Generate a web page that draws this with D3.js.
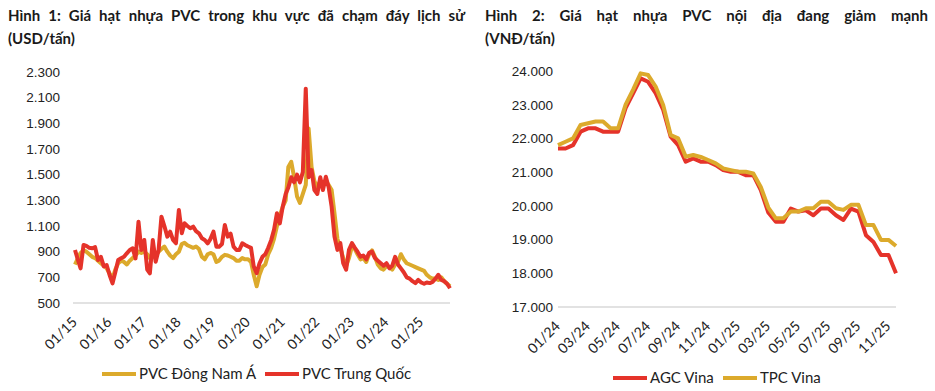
<!DOCTYPE html>
<html>
<head>
<meta charset="utf-8">
<script src="https://cdnjs.cloudflare.com/ajax/libs/d3/7.8.5/d3.min.js"></script>
<style>
    body { margin: 0; background: #fff; }
    svg { display: block; font-family: Lato, "Noto Sans", sans-serif; }
    .title { font-weight: bold; font-size: 15px; fill: #1a1a1a; }
    .tick text { font-size: 13.5px; fill: #222; }
    .legend-label { font-size: 15px; fill: #222; }
</style>
</head>
<body>
<svg id="chart" width="935" height="391"></svg>
<script>
// ---- Hình 1: monthly, 01/2015 - 11/2025 (USD/tấn)
const leftStart = new Date(2015, 0, 1)
const pvcSEA = [
    800, 850, 890, 910, 900, 880, 860, 850, 830, 810, 790, 770,
    730, 690, 760, 810, 830, 820, 800, 830, 850, 870, 900, 890,
    900, 880, 850, 880, 870, 900, 920, 940, 900, 870, 850, 880,
    900, 960, 970, 950, 940, 930, 940, 920, 860, 840, 880, 890,
    880, 820, 830, 860, 875, 870, 860, 850, 830, 830, 850, 840,
    840, 820, 720, 630, 720, 780, 800, 880, 930, 1000, 1100, 1180,
    1250, 1300, 1560, 1600, 1480, 1330, 1280, 1350, 1420, 1860, 1560, 1450,
    1400, 1450, 1420, 1450, 1420, 1380, 1200, 1000, 930, 850, 790, 850,
    940, 920, 880, 840, 850, 820, 880, 910, 860, 800, 770, 760,
    790, 780, 760, 800, 820, 880, 840, 810, 800, 790, 780, 770,
    760, 750, 720, 700, 690, 690, 680, 700, 670, 650, 630
]
const pvcChina = [
    913, 835, 770, 952, 945, 930, 926, 935, 835, 860, 785, 796,
    718, 653, 740, 835, 848, 860, 887, 913, 926, 848, 1134, 913,
    991, 760, 731, 991, 822, 913, 1173, 1100, 1017, 1056, 991, 965,
    1225, 1043, 1121, 1100, 1082, 1095, 1060, 1043, 1004, 991, 965, 1000,
    1056, 939, 939, 960, 1108, 1017, 1040, 939, 913, 913, 965, 952,
    940, 930, 785, 733, 810, 860, 880, 930, 990, 1070, 1200, 1120,
    1250, 1350, 1400, 1480, 1440, 1500, 1440, 1520, 2170, 1480, 1536, 1380,
    1350, 1480, 1380, 1484, 1400, 1250, 1018, 914, 966, 810, 759, 914,
    966, 930, 900, 860, 870, 840, 890, 900, 850, 830, 810, 790,
    810, 770, 790, 860, 800, 770, 740, 700, 690, 670, 655, 680,
    660, 650, 660, 655, 665, 690, 720, 680, 670, 650, 615
]
const leftYTicks = [500, 700, 900, 1100, 1300, 1500, 1700, 1900, 2100, 2300]
const leftXTicks = ['01/15', '01/16', '01/17', '01/18', '01/19', '01/20', '01/21', '01/22', '01/23', '01/24', '01/25']

// ---- Hình 2: twice a month, 01/2024 - 11/2025 (VNĐ/tấn)
const agcVina = [
    21700, 21700, 21800, 22200, 22300, 22300, 22200, 22200, 22200, 22900, 23340, 23780,
    23680, 23340, 22850, 22050, 21800, 21310, 21410, 21310, 21310, 21210, 21060, 21010,
    21010, 20910, 20910, 20470, 19800, 19530, 19530, 19920, 19830, 19870, 19720, 19920,
    19920, 19720, 19580, 19920, 19830, 19130, 18930, 18540, 18540, 18000
]
const tpcVina = [
    21800, 21900, 22000, 22400, 22450, 22500, 22500, 22300, 22300, 23000, 23450, 23930,
    23880, 23540, 22990, 22100, 22000, 21460, 21510, 21450, 21360, 21260, 21110, 21060,
    21010, 21010, 20960, 20560, 19950, 19630, 19630, 19830, 19830, 19930, 19930, 20120,
    20120, 19930, 19880, 20030, 20030, 19430, 19430, 18990, 18990, 18810
]
const rightYTicks = [17000, 18000, 19000, 20000, 21000, 22000, 23000, 24000]
const rightXTicks = ['01/24', '03/24', '05/24', '07/24', '09/24', '11/24', '01/25', '03/25', '05/25', '07/25', '09/25', '11/25']

const yellow = '#dcaa2c'
const red = '#e5332a'
const viLocale = d3.formatLocale({decimal: ',', thousands: '.', grouping: [3], currency: ['', '']})
const fmt = viLocale.format(',')

const svg = d3.select('#chart')

class PanelChart {
    constructor(_config) {
        this.config = _config
        this.initVis()
    }

    initVis() {
        let vis = this
        let c = vis.config
        vis.g = svg.append('g')

        // title line 1 is justified: spread the gap between words
        let t1 = vis.g.append('text')
            .attr('class', 'title')
            .attr('x', c.titleX)
            .attr('y', 21)
            .text(c.title)
        let natural = t1.node().getComputedTextLength()
        let gaps = c.title.split(' ').length - 1
        t1.style('word-spacing', ((c.titleWidth - natural) / gaps) + 'px')

        vis.g.append('text')
            .attr('class', 'title')
            .attr('x', c.titleX)
            .attr('y', 44)
            .text(c.unit)

        vis.yScale = d3.scaleLinear()
            .domain(c.yDomain)
            .range([c.bottom, c.top])

        vis.xScale = c.xScale

        // baseline
        vis.g.append('line')
            .attr('x1', c.x0 - 2)
            .attr('x2', c.x1)
            .attr('y1', c.bottom)
            .attr('y2', c.bottom)
            .attr('stroke', '#d9d9d9')
            .attr('stroke-width', 1.5)

        vis.yAxis = d3.axisLeft(vis.yScale)
            .tickValues(c.yTicks)
            .tickSize(0)
            .tickPadding(0)
            .tickFormat(fmt)
        vis.yAxisG = vis.g.append('g')
            .attr('transform', `translate(${c.yLabelX}, 0)`)
            .call(vis.yAxis)
        vis.yAxisG.select('.domain').remove()

        // rotated x labels
        vis.g.selectAll('.x-label')
            .data(c.xTicks)
            .join('text')
            .attr('class', 'x-label')
            .attr('transform', d => `translate(${c.xTickPos(d) + 3}, ${c.bottom + 20}) rotate(-45)`)
            .attr('text-anchor', 'end')
            .style('font-size', '14px')
            .style('fill', '#222')
            .text(d => d.label)

        vis.renderVis()
    }

    renderVis() {
        let vis = this
        let c = vis.config
        let line = d3.line()
            .x(d => vis.xScale(d.x))
            .y(d => vis.yScale(d.y))
            .curve(d3.curveLinear)

        vis.g.selectAll('.series')
            .data(c.series)
            .join('path')
            .attr('class', 'series')
            .attr('fill', 'none')
            .attr('stroke', d => d.color)
            .attr('stroke-width', c.lineWidth)
            .attr('stroke-linejoin', 'round')
            .attr('d', d => line(d.values))

        // legend
        let lg = vis.g.selectAll('.legend')
            .data(c.legend)
            .join('g')
            .attr('class', 'legend')
            .attr('transform', d => `translate(${d.x}, ${c.legendY})`)
        lg.append('line')
            .attr('x1', 0).attr('x2', 34)
            .attr('stroke', d => d.color)
            .attr('stroke-width', 4)
        lg.append('text')
            .attr('class', 'legend-label')
            .attr('x', 37)
            .attr('y', 5)
            .text(d => d.name)
    }
}

// left panel
const leftX = d3.scaleTime()
    .domain([leftStart, d3.timeMonth.offset(leftStart, pvcChina.length - 1)])
    .range([75, 450])
const leftVals = arr => arr.map((v, i) => ({x: d3.timeMonth.offset(leftStart, i), y: v}))

new PanelChart({
    title: 'Hình 1: Giá hạt nhựa PVC trong khu vực đã chạm đáy lịch sử',
    unit: '(USD/tấn)',
    titleX: 8,
    titleWidth: 457,
    yDomain: [500, 2300],
    top: 72,
    bottom: 303,
    x0: 75,
    x1: 450,
    yLabelX: 60,
    yTicks: leftYTicks,
    xScale: leftX,
    xTicks: leftXTicks.map((l, i) => ({label: l, pos: d3.timeYear.offset(leftStart, i)})),
    xTickPos: d => leftX(d.pos),
    lineWidth: 4,
    series: [
        {name: 'PVC Đông Nam Á', color: yellow, values: leftVals(pvcSEA)},
        {name: 'PVC Trung Quốc', color: red, values: leftVals(pvcChina)}
    ],
    legendY: 374,
    legend: [
        {name: 'PVC Đông Nam Á', color: yellow, x: 102},
        {name: 'PVC Trung Quốc', color: red, x: 265}
    ]
})

// right panel
const rightX = d3.scalePoint()
    .domain(d3.range(agcVina.length))
    .range([558, 896])
const rightVals = arr => arr.map((v, i) => ({x: i, y: v}))

new PanelChart({
    title: 'Hình 2: Giá hạt nhựa PVC nội địa đang giảm mạnh',
    unit: '(VNĐ/tấn)',
    titleX: 485,
    titleWidth: 443,
    yDomain: [17000, 24000],
    top: 71,
    bottom: 307,
    x0: 560,
    x1: 896,
    yLabelX: 553,
    yTicks: rightYTicks,
    xScale: rightX,
    xTicks: rightXTicks.map((l, i) => ({label: l, pos: i * 4})),
    xTickPos: d => rightX(d.pos),
    lineWidth: 4,
    series: [
        {name: 'AGC Vina', color: red, values: rightVals(agcVina)},
        {name: 'TPC Vina', color: yellow, values: rightVals(tpcVina)}
    ],
    legendY: 378,
    legend: [
        {name: 'AGC Vina', color: red, x: 613},
        {name: 'TPC Vina', color: yellow, x: 723}
    ]
})
</script>
</body>
</html>
